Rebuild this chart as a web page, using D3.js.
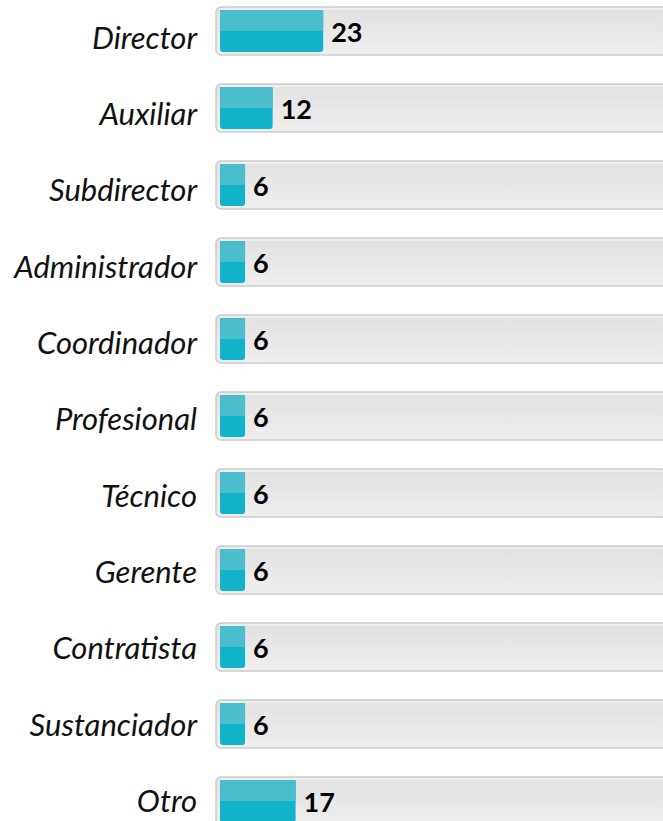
<!DOCTYPE html>
<meta charset="utf-8">
<style>
body { margin: 0; background: #fff; }
svg { display: block; }
.cat { font-family: Lato, "Open Sans", sans-serif; font-style: italic; font-size: 31px; fill: #111; }
.val { font-family: Lato, "Open Sans", sans-serif; font-weight: bold; font-size: 27px; fill: #000; }
</style>
<svg></svg>
<script src="https://cdn.jsdelivr.net/npm/d3@7"></script>
<script>

var categories = ["Director", "Auxiliar", "Subdirector", "Administrador", "Coordinador",
                  "Profesional", "Técnico", "Gerente", "Contratista", "Sustanciador", "Otro"]
var values = [23, 12, 6, 6, 6, 6, 6, 6, 6, 6, 17]

var width = 663,
    height = 821

var svg = d3.select("svg")
  .attr("width", width)
  .attr("height", height)

var defs = svg.append("defs")
var grad = defs.append("linearGradient")
  .attr("id", "track")
  .attr("x1", 0).attr("y1", 0).attr("x2", 0).attr("y2", 1)
grad.append("stop").attr("offset", "0%").attr("stop-color", "#e2e1e1")
grad.append("stop").attr("offset", "100%").attr("stop-color", "#efefef")

// rows of the background tracks
var y = d3.scaleBand()
  .domain(categories)
  .range([7, 825])
  .paddingInner(0.377)
  .paddingOuter(0)

// labels sit on a slightly tighter rhythm than the tracks
var yLabel = d3.scalePoint()
  .domain(categories)
  .range([38, 801])

var x = d3.scaleLinear()
  .domain([0, 100])
  .range([217.5, 677])

var trackX = 216,
    barX = 220,
    inset = 3

var row = svg.append("g")
  .selectAll("g")
  .data(categories)
  .enter().append("g")

row.append("rect")
  .attr("x", trackX)
  .attr("y", function(d){ return y(d) })
  .attr("width", 470)
  .attr("height", y.bandwidth())
  .attr("rx", 5)
  .attr("fill", "url(#track)")
  .attr("stroke", "#cdcdcd")
  .attr("stroke-width", 1.5)

row.append("line")
  .attr("x1", trackX + 4)
  .attr("x2", 680)
  .attr("y1", function(d){ return y(d) + 2 })
  .attr("y2", function(d){ return y(d) + 2 })
  .attr("stroke", "#fafafa")
  .attr("stroke-width", 1)

// lower (darker) half of the bar
row.append("rect")
  .attr("x", barX)
  .attr("y", function(d){ return y(d) + inset })
  .attr("width", function(d, i){ return x(values[i]) - barX })
  .attr("height", y.bandwidth() - 2 * inset)
  .attr("rx", 3)
  .attr("fill", "#10b3ca")

// upper (lighter) half
row.append("rect")
  .attr("x", barX)
  .attr("y", function(d){ return y(d) + inset })
  .attr("width", function(d, i){ return x(values[i]) - barX })
  .attr("height", (y.bandwidth() - 2 * inset) / 2)
  .attr("fill", "#4bbdcc")

row.append("text")
  .attr("class", "val")
  .attr("x", function(d, i){ return x(values[i]) + 8 })
  .attr("y", function(d){ return y(d) + y.bandwidth() / 2 + 2 })
  .attr("dy", "0.35em")
  .text(function(d, i){ return values[i] })

row.append("text")
  .attr("class", "cat")
  .attr("x", 197)
  .attr("y", function(d){ return yLabel(d) })
  .attr("dy", "0.35em")
  .attr("text-anchor", "end")
  .text(function(d){ return d })

</script>
